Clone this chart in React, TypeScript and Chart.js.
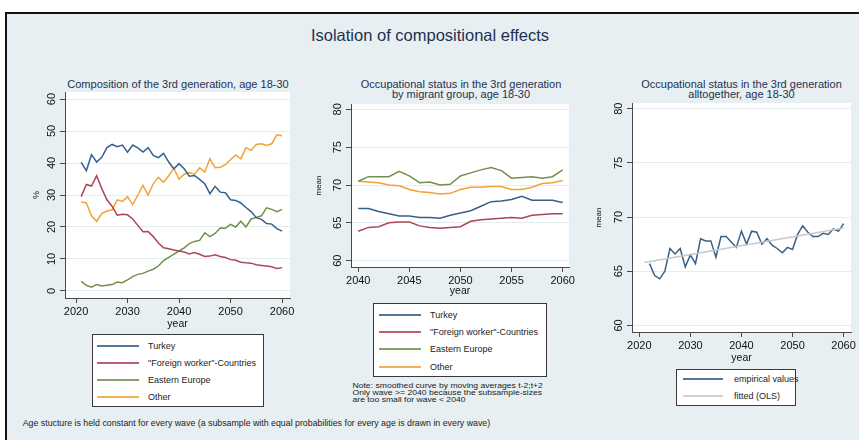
import React, { useEffect, useRef } from "react";
import { Chart, registerables } from "chart.js";
Chart.register(...registerables);

// ---------- DATA ----------
const years1 = [2021, 2022, 2023, 2024, 2025, 2026, 2027, 2028, 2029, 2030, 2031, 2032, 2033, 2034, 2035, 2036, 2037, 2038, 2039, 2040, 2041, 2042, 2043, 2044, 2045, 2046, 2047, 2048, 2049, 2050, 2051, 2052, 2053, 2054, 2055, 2056, 2057, 2058, 2059, 2060];
const turkey1 = [40.2, 37.6, 42.6, 40.3, 41.8, 44.8, 45.8, 45.1, 45.6, 43.4, 45.6, 44.7, 43.4, 44.8, 42.4, 41.7, 43.0, 40.3, 38.2, 39.8, 38.2, 35.9, 36.1, 34.9, 33.5, 30.4, 32.7, 30.9, 30.7, 28.5, 28.3, 27.5, 26.1, 24.8, 22.9, 22.4, 21.1, 20.9, 19.5, 18.7];
const foreign1 = [29.5, 33.3, 32.8, 36.0, 32.0, 28.5, 26.5, 23.7, 24.0, 23.8, 22.5, 20.5, 18.5, 18.6, 17.0, 15.0, 13.5, 13.2, 12.8, 12.5, 12.2, 11.6, 12.0, 11.5, 10.8, 10.9, 11.3, 10.8, 10.5, 9.8, 9.6, 9.0, 8.8, 8.7, 8.2, 8.0, 7.8, 7.6, 7.0, 7.3];
const eastern1 = [3.0, 1.8, 1.2, 2.0, 1.6, 1.8, 2.0, 2.8, 2.6, 3.5, 4.5, 5.2, 5.5, 6.2, 6.8, 7.8, 9.5, 10.5, 11.5, 12.5, 13.5, 14.8, 15.5, 15.8, 18.2, 17.0, 18.0, 19.7, 19.6, 20.8, 20.0, 21.8, 20.0, 22.5, 23.0, 23.5, 26.0, 25.5, 24.8, 25.5];
const other1 = [27.8, 27.5, 23.5, 21.8, 24.2, 25.0, 25.3, 28.5, 28.0, 29.5, 27.0, 30.0, 33.0, 30.0, 33.5, 35.5, 34.0, 36.0, 38.3, 35.0, 36.5, 37.0, 36.5, 38.5, 37.2, 41.3, 38.5, 38.7, 39.5, 41.0, 42.5, 41.3, 44.8, 44.0, 45.8, 46.0, 45.5, 46.0, 48.8, 48.5];
const xTicks1 = [2020, 2030, 2040, 2050, 2060];
const yTicks1 = [0, 10, 20, 30, 40, 50, 60];

const years2 = [2040, 2041, 2042, 2043, 2044, 2045, 2046, 2047, 2048, 2049, 2050, 2051, 2052, 2053, 2054, 2055, 2056, 2057, 2058, 2059, 2060];
const turkey2 = [66.9, 66.9, 66.5, 66.2, 65.9, 65.9, 65.7, 65.7, 65.6, 66.0, 66.3, 66.6, 67.2, 67.8, 67.9, 68.1, 68.5, 68.0, 68.0, 68.0, 67.7];
const foreign2 = [63.9, 64.4, 64.5, 65.0, 65.1, 65.1, 64.6, 64.4, 64.3, 64.4, 64.5, 65.2, 65.4, 65.5, 65.6, 65.7, 65.6, 66.0, 66.1, 66.2, 66.2];
const eastern2 = [70.5, 71.1, 71.1, 71.1, 71.8, 71.2, 70.3, 70.4, 70.0, 70.1, 71.2, 71.6, 72.0, 72.3, 71.9, 70.9, 71.0, 71.1, 70.9, 71.1, 72.0];
const other2 = [70.5, 70.4, 70.3, 70.0, 69.9, 69.4, 69.1, 69.0, 68.8, 68.9, 69.4, 69.7, 69.7, 69.8, 69.8, 69.4, 69.4, 69.7, 70.2, 70.3, 70.6];
const xTicks2 = [2040, 2045, 2050, 2055, 2060];
const yTicks2 = [60, 65, 70, 75, 80];

const years3 = [2022, 2023, 2024, 2025, 2026, 2027, 2028, 2029, 2030, 2031, 2032, 2033, 2034, 2035, 2036, 2037, 2038, 2039, 2040, 2041, 2042, 2043, 2044, 2045, 2046, 2047, 2048, 2049, 2050, 2051, 2052, 2053, 2054, 2055, 2056, 2057, 2058, 2059, 2060];
const empirical3 = [65.7, 64.6, 64.3, 65.0, 67.1, 66.6, 67.1, 65.4, 66.5, 65.7, 68.0, 67.8, 67.8, 66.3, 68.2, 68.2, 67.7, 67.2, 68.7, 67.5, 68.7, 68.6, 67.5, 68.0, 67.4, 67.1, 66.7, 67.2, 67.0, 68.4, 69.2, 68.6, 68.2, 68.2, 68.5, 68.4, 68.9, 68.7, 69.4];
const fittedYears3 = [2021, 2060];
const fitted3 = [65.8, 69.0];
const xTicks3 = [2020, 2030, 2040, 2050, 2060];
const yTicks3 = [60, 65, 70, 75, 80];

// ---------- STYLE ----------
const FONT = '"Liberation Sans", Arial, Helvetica, sans-serif';
const C_TURKEY = "#36608c";
const C_FOREIGN = "#ad4556";
const C_EASTERN = "#72904c";
const C_OTHER = "#f2a236";
const C_EMP = "#3a6088";
const C_FIT = "#c8c8c8";
const AXIS = "#4a4a4a";
const GRID = "#e4ecf0";
const TEXT = "#111111";
const NAVY = "#1f3150";
const BG = "#e7eff2";

const bgPlugin = {
  id: "plotbg",
  beforeDraw(chart: any) {
    const { ctx, chartArea } = chart;
    if (!chartArea) return;
    ctx.save();
    ctx.fillStyle = "#ffffff";
    ctx.fillRect(chartArea.left, chartArea.top, chartArea.right - chartArea.left, chartArea.bottom - chartArea.top);
    ctx.restore();
  },
};

type Series = { xs: number[]; ys: number[]; color: string; width?: number };
type PanelCfg = {
  left: number; top: number; width: number; height: number;
  padTop: number; padRight: number; yAxisW: number; xAxisH: number;
  xMin: number; xMax: number; yMin: number; yMax: number;
  xTicks: number[]; yTicks: number[];
  yTitle: string; yTitleSize: number; yTitlePad: number;
  series: Series[];
};

function Panel({ cfg }: { cfg: PanelCfg }) {
  const ref = useRef<HTMLCanvasElement | null>(null);
  useEffect(() => {
    if (!ref.current) return;
    const chart = new Chart(ref.current, {
      type: "line",
      data: {
        datasets: cfg.series.map((s) => ({
          data: s.xs.map((x, i) => ({ x, y: s.ys[i] })),
          borderColor: s.color,
          borderWidth: s.width ?? 1.5,
          pointRadius: 0,
          tension: 0,
          fill: false,
        })),
      },
      options: {
        responsive: false,
        maintainAspectRatio: false,
        animation: false,
        devicePixelRatio: 1,
        layout: { padding: { top: cfg.padTop, right: cfg.padRight, left: 0, bottom: 0 } },
        plugins: { legend: { display: false }, tooltip: { enabled: false }, title: { display: false } },
        scales: {
          x: {
            type: "linear",
            min: cfg.xMin,
            max: cfg.xMax,
            afterBuildTicks: (s: any) => { s.ticks = cfg.xTicks.map((v) => ({ value: v })); },
            afterFit: (s: any) => { s.height = cfg.xAxisH; },
            grid: { drawOnChartArea: false, drawTicks: true, tickLength: 5, tickColor: AXIS, tickWidth: 1 },
            border: { display: true, color: AXIS, width: 1 },
            ticks: { font: { family: FONT, size: 11 }, color: TEXT, padding: 2, minRotation: 0, maxRotation: 0, autoSkip: false, callback: (v: any) => String(v) },
            title: { display: true, text: "year", font: { family: FONT, size: 10.5 }, color: TEXT, padding: { top: 0, bottom: 2 } },
          },
          y: {
            type: "linear",
            min: cfg.yMin,
            max: cfg.yMax,
            afterBuildTicks: (s: any) => { s.ticks = cfg.yTicks.map((v) => ({ value: v })); },
            afterFit: (s: any) => { s.width = cfg.yAxisW; },
            grid: { drawOnChartArea: true, color: GRID, lineWidth: 1, drawTicks: true, tickLength: 5, tickColor: AXIS, tickWidth: 1 },
            border: { display: true, color: AXIS, width: 1 },
            ticks: { font: { family: FONT, size: 11 }, color: TEXT, padding: 2, minRotation: 90, maxRotation: 90, crossAlign: "center", autoSkip: false, callback: (v: any) => String(v) },
            title: { display: true, text: cfg.yTitle, font: { family: FONT, size: cfg.yTitleSize }, color: TEXT, padding: { top: cfg.yTitlePad, bottom: 0 } },
          },
        },
      } as any,
      plugins: [bgPlugin],
    });
    return () => chart.destroy();
  }, []);
  return (
    <canvas
      ref={ref}
      width={cfg.width}
      height={cfg.height}
      style={{ position: "absolute", left: cfg.left, top: cfg.top, width: cfg.width, height: cfg.height }}
    />
  );
}

function Txt({ x, y, size, color = TEXT, align = "center", children }: any) {
  return (
    <div
      style={{
        position: "absolute", left: x, top: y,
        transform: align === "center" ? "translate(-50%,-50%)" : "translate(0,-50%)",
        fontSize: size, color, whiteSpace: "nowrap", lineHeight: 1, fontFamily: FONT,
      }}
    >
      {children}
    </div>
  );
}

function Legend({ box, items, lineX1, lineX2, textX }: any) {
  return (
    <>
      <div style={{ position: "absolute", left: box[0], top: box[1], width: box[2], height: box[3], background: "#fff", border: "1px solid #3a3a3a", boxSizing: "border-box" }} />
      {items.map((it: any, i: number) => (
        <React.Fragment key={i}>
          <div style={{ position: "absolute", left: lineX1, top: Math.round(it.y) - 1, width: lineX2 - lineX1, height: 2, background: it.color, opacity: 0.85 }} />
          <Txt x={textX} y={it.y} size={9} align="left" color="#222">{it.label}</Txt>
        </React.Fragment>
      ))}
    </>
  );
}

const panel1: PanelCfg = {
  left: 20, top: 82, width: 285, height: 250, padTop: 10, padRight: 15, yAxisW: 45, xAxisH: 34,
  xMin: 2017.86, xMax: 2061.55, yMin: -2.19, yMax: 62.19, xTicks: xTicks1, yTicks: yTicks1,
  yTitle: "%", yTitleSize: 9, yTitlePad: 11.6,
  series: [
    { xs: years1, ys: turkey1, color: C_TURKEY },
    { xs: years1, ys: foreign1, color: C_FOREIGN },
    { xs: years1, ys: eastern1, color: C_EASTERN },
    { xs: years1, ys: other1, color: C_OTHER },
  ],
};
const panel2: PanelCfg = {
  left: 305, top: 94, width: 276, height: 205, padTop: 10, padRight: 12, yAxisW: 46, xAxisH: 32,
  xMin: 2039.29, xMax: 2060.62, yMin: 59.17, yMax: 80.7, xTicks: xTicks2, yTicks: yTicks2,
  yTitle: "mean", yTitleSize: 8, yTitlePad: 9.2,
  series: [
    { xs: years2, ys: turkey2, color: C_TURKEY },
    { xs: years2, ys: foreign2, color: C_FOREIGN },
    { xs: years2, ys: eastern2, color: C_EASTERN },
    { xs: years2, ys: other2, color: C_OTHER },
  ],
};
const panel3: PanelCfg = {
  left: 585, top: 93, width: 274, height: 273, padTop: 10, padRight: 8, yAxisW: 47, xAxisH: 34,
  xMin: 2018.57, xMax: 2061.45, yMin: 59.39, yMax: 80.53, xTicks: xTicks3, yTicks: yTicks3,
  yTitle: "mean", yTitleSize: 8, yTitlePad: 9.2,
  series: [
    { xs: fittedYears3, ys: fitted3, color: C_FIT },
    { xs: years3, ys: empirical3, color: C_EMP },
  ],
};

const noteLines = [
  "Note: smoothed curve by moving averages t-2;t+2",
  "Only wave >= 2040 because the subsample-sizes",
  "are too small for wave < 2040",
];

export default function App() {
  return (
    <div style={{ position: "fixed", left: 0, top: 0, width: 859, height: 440, overflow: "hidden", background: "#fff", fontFamily: FONT }}>
      <div style={{ position: "absolute", left: 5, top: 12, width: 900, height: 500, background: BG, borderLeft: "2px solid #111", borderTop: "2px solid #111" }} />
      <Txt x={430} y={35} size={16.5} color={NAVY}>Isolation of compositional effects</Txt>

      <Txt x={178} y={84} size={11} color={NAVY}>Composition of the 3rd generation, age 18-30</Txt>
      <Txt x={461} y={84} size={11} color={NAVY}>Occupational status in the 3rd generation</Txt>
      <Txt x={461} y={94} size={11} color={NAVY}>by migrant group, age 18-30</Txt>
      <Txt x={741.5} y={84} size={11} color={NAVY}>Occupational status in the 3rd generation</Txt>
      <Txt x={741.5} y={93.5} size={11} color={NAVY}>alltogether, age 18-30</Txt>

      <Panel cfg={panel1} />
      <Panel cfg={panel2} />
      <Panel cfg={panel3} />

      <Legend
        box={[92, 334, 172, 73]} lineX1={97} lineX2={139} textX={148}
        items={[
          { label: "Turkey", color: C_TURKEY, y: 346 },
          { label: "\"Foreign worker\"-Countries", color: C_FOREIGN, y: 363 },
          { label: "Eastern Europe", color: C_EASTERN, y: 380 },
          { label: "Other", color: C_OTHER, y: 397 },
        ]}
      />
      <Legend
        box={[373, 303, 174, 74]} lineX1={379} lineX2={421} textX={430}
        items={[
          { label: "Turkey", color: C_TURKEY, y: 315 },
          { label: "\"Foreign worker\"-Countries", color: C_FOREIGN, y: 332 },
          { label: "Eastern Europe", color: C_EASTERN, y: 349 },
          { label: "Other", color: C_OTHER, y: 367 },
        ]}
      />
      <Legend
        box={[676, 369, 120, 37]} lineX1={683} lineX2={723} textX={734}
        items={[
          { label: "empirical values", color: C_EMP, y: 379 },
          { label: "fitted (OLS)", color: C_FIT, y: 396 },
        ]}
      />

      <div style={{ position: "absolute", left: 352.5, top: 382.5, fontSize: 8.6, lineHeight: "8.8px", color: "#222", whiteSpace: "nowrap", transform: "scaleY(0.74)", transformOrigin: "0 0", fontFamily: FONT }}>
        {noteLines.map((l, i) => (<div key={i}>{l}</div>))}
      </div>

      <Txt x={22.7} y={423} size={8.8} align="left" color="#222">Age stucture is held constant for every wave (a subsample with equal probabilities for every age is drawn in every wave)</Txt>
    </div>
  );
}
